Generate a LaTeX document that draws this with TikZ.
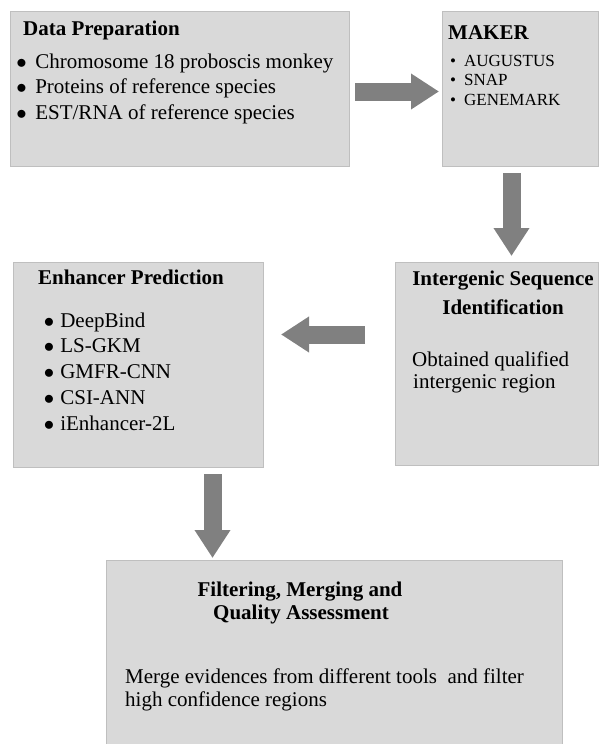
\documentclass[tikz,border=0pt]{standalone}
\usepackage{fontspec}
\setmainfont{Liberation Serif}
\usetikzlibrary{arrows.meta, positioning, calc}
\definecolor{boxfill}{HTML}{D9D9D9}
\definecolor{boxline}{HTML}{BFBFBF}
\definecolor{arrowgray}{HTML}{808080}
\newcommand{\bigdot}{$\bullet$}
\tikzset{
  stage/.style={rectangle, draw=boxline, fill=boxfill, line width=1pt,
                anchor=north west, inner sep=0pt},
  ttl/.style={font=\fontsize{21}{25}\selectfont\bfseries, inner sep=0pt},
  txt/.style={font=\fontsize{21}{25}\selectfont, inner sep=0pt},
  small/.style={font=\fontsize{17}{20}\selectfont, inner sep=0pt},
  blk/.style={line width=18pt, draw=arrowgray,
              -{Triangle[length=28pt, width=34pt]}},
}
\begin{document}
\begin{tikzpicture}[x=1pt, y=-1pt]
  \useasboundingbox (0,0) rectangle (599,744);
  % boxes
  \node[stage, minimum width=339pt, minimum height=155pt] (prep) at (10,11) {};
  \node[stage, minimum width=156pt, minimum height=155pt] (maker) at (442,11) {};
  \node[stage, minimum width=203pt, minimum height=203pt] (inter) at (395,262) {};
  \node[stage, minimum width=250pt, minimum height=205pt] (enh) at (13,262) {};
  \node[stage, minimum width=456pt, minimum height=190pt] (filt) at (106,560) {};
  % Data Preparation
  \node[ttl, anchor=base west] (prepT) at ($(prep.north west)+(13,24)$) {Data Preparation};
  \foreach \entry [count=\i] in {Chromosome 18 proboscis monkey, Proteins of reference species, EST/RNA of reference species}
    \node[txt, anchor=base west] (prep\i) at ($(prep.north west)+(6.25,31.5+25.5*\i)$) {\bigdot\hspace{8.5pt}\entry};
  % MAKER
  \node[ttl, anchor=base west] (makerT) at ($(maker.north west)+(6,28)$) {MAKER};
  \foreach \entry [count=\i] in {AUGUSTUS, SNAP, GENEMARK}
    \node[small, anchor=base west] (maker\i) at ($(maker.north west)+(8,35.5+19.5*\i)$) {\textbullet\hspace{8pt}\entry};
  % Intergenic
  \node[ttl, anchor=base] (interT1) at ($(inter.north west)+(108,23)$) {Intergenic Sequence};
  \node[ttl, anchor=base] (interT2) at ($(inter.north west)+(108,52)$) {Identification};
  \node[txt, anchor=base west] (inter1) at ($(inter.north west)+(17,104)$) {Obtained qualified};
  \node[txt, anchor=base west] (inter2) at ($(inter.north west)+(18,126)$) {intergenic region};
  % Enhancer
  \node[ttl, anchor=base west] (enhT) at ($(enh.north west)+(25,22)$) {Enhancer Prediction};
  \foreach \entry [count=\i] in {DeepBind, LS-GKM, GMFR-CNN, CSI-ANN, iEnhancer-2L}
    \node[txt, anchor=base west] (enh\i) at ($(enh.north west)+(30.75,39.2+25.8*\i)$) {\bigdot\hspace{6pt}\entry};
  % Filtering
  \node[ttl, anchor=base] (filtT1) at ($(filt.north west)+(194,36)$) {Filtering, Merging and};
  \node[ttl, anchor=base] (filtT2) at ($(filt.north west)+(195,59)$) {Quality Assessment};
  \node[txt, anchor=base west] (filt1) at ($(filt.north west)+(19,123)$) {Merge evidences from different tools\ \ and filter};
  \node[txt, anchor=base west] (filt2) at ($(filt.north west)+(19,146)$) {high confidence regions};
  % block arrows
  \draw[blk] ($(prep.north east)+(5,80.5)$) -- ($(maker.north west)+(-3,80.5)$);
  \draw[blk] ($(maker.south west)+(69.5,6)$) -- ($(inter.north west)+(116.5,-6)$);
  \draw[blk] ($(inter.north west)+(-30,72.5)$) -- ($(enh.north east)+(17,72.5)$);
  \draw[blk] ($(enh.south west)+(199.5,6)$) -- ($(filt.north west)+(106.5,-2)$);
\end{tikzpicture}
\end{document}
